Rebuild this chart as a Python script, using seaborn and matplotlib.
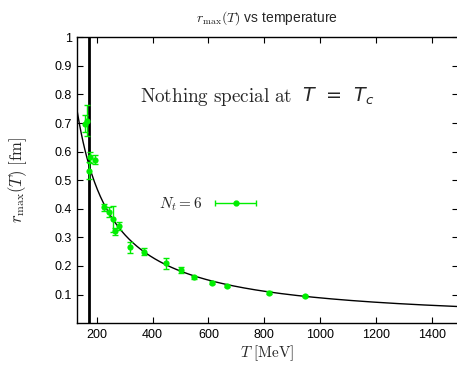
import numpy as np
import pandas as pd
import matplotlib
matplotlib.use("Agg")
import matplotlib.pyplot as plt
from matplotlib.legend_handler import HandlerErrorbar
import seaborn as sns

# ---- data ----
T_vals = [156, 164, 171, 176, 195, 224, 243, 257, 266, 281, 320, 370, 446, 503, 547, 612, 667, 815, 946]
r_vals = [0.697, 0.708, 0.533, 0.580, 0.571, 0.405, 0.389, 0.365, 0.322, 0.340, 0.265, 0.250, 0.209, 0.186, 0.160, 0.142, 0.130, 0.107, 0.095]
r_errs = [0.030, 0.055, 0.030, 0.020, 0.016, 0.013, 0.018, 0.045, 0.012, 0.015, 0.018, 0.012, 0.018, 0.010, 0.005, 0.005, 0.005, 0.004, 0.004]

# fit curve r = A * (T/130)^(-p)
fit_A = 0.739
fit_p = 1.04
T_c = 171

x_ticks = [200, 400, 600, 800, 1000, 1200, 1400]
y_ticks = [0.1, 0.2, 0.3, 0.4, 0.5, 0.6, 0.7, 0.8, 0.9, 1.0]
y_tick_labels = ["0.1", "0.2", "0.3", "0.4", "0.5", "0.6", "0.7", "0.8", "0.9", "1"]

green = "#00ee00"

sns.set_theme(style="ticks")
plt.rcParams["font.family"] = ["Liberation Sans", "DejaVu Sans"]
plt.rcParams["mathtext.fontset"] = "cm"

fig = plt.figure(figsize=(4.57, 3.68), dpi=100)
ax = fig.add_axes([77.3 / 457, 1 - 323.2 / 368, (457.5 - 77.3) / 457, 286 / 368])

df = pd.DataFrame({"T": T_vals, "r": r_vals, "err": r_errs})
T_fit = np.linspace(130, 1500, 400)
fit_df = pd.DataFrame({"T": T_fit, "r": fit_A * (T_fit / 130.0) ** (-fit_p)})

sns.lineplot(data=fit_df, x="T", y="r", ax=ax, color="black", lw=1.0)
ax.errorbar(df["T"], df["r"], yerr=df["err"], fmt="none", ecolor=green,
            elinewidth=1.0, capsize=2.2, capthick=1.0, zorder=3)
sns.scatterplot(data=df, x="T", y="r", ax=ax, color=green, s=20, edgecolor=green,
                linewidth=0, zorder=4)
ax.axvline(T_c, color="black", lw=2.0)

# legend proxy (gnuplot-style key sample)
proxy = ax.errorbar([np.nan], [np.nan], xerr=[np.nan], fmt="o", color=green,
                    ms=3.5, lw=1.0, capsize=2.5, label=r"$N_t = 6$")
leg = ax.legend(handles=[proxy], loc="center", bbox_to_anchor=(0.35, 0.417),
                frameon=False, markerfirst=False, fontsize=11, handlelength=3.4,
                handletextpad=0.5,
                handler_map={proxy: HandlerErrorbar(xerr_size=1.35)})

ax.text(899, 0.792, r"$\mathrm{Nothing\ special\ at}$", ha="right", va="center", fontsize=13.8)
ax.text(935, 0.792, r"$T\;\,=\;\,T_c$", ha="left", va="center", fontsize=13.8,
        math_fontfamily="dejavusans")

ax.set_xlim(130, 1492)
ax.set_ylim(0, 1)
ax.set_xticks(x_ticks)
ax.set_yticks(y_ticks)
ax.set_yticklabels(y_tick_labels)
ax.tick_params(direction="in", top=True, right=True, length=4, width=0.8,
               labelsize=9, colors="black", pad=4)
for s in ax.spines.values():
    s.set_color("black")
    s.set_linewidth(1.0)

ax.set_xlabel(r"$T\ [\mathrm{MeV}]$", fontsize=11, labelpad=2)
ax.set_ylabel(r"$r_{\max}(T)\ [\mathrm{fm}]$", fontsize=12, labelpad=18)
ax.set_title(r"$r_{\max}(T)$ vs temperature", fontsize=10, pad=11)

fig.savefig("out.png", dpi=100)
